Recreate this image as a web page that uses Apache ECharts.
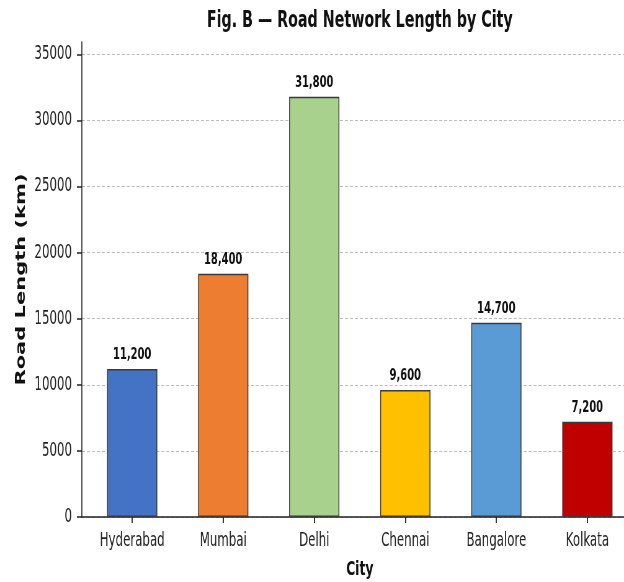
<!DOCTYPE html>
<html>
<head>
<meta charset="utf-8">
<script src="https://cdn.jsdelivr.net/npm/echarts@6/dist/echarts.min.js"></script>
<style>
  html, body { margin: 0; padding: 0; background: #fff; overflow: hidden; }
  #wrap { width: 624px; height: 582px; overflow: hidden; }
  /* the figure is laid out wide and then narrowed horizontally */
  #chart { width: 1040px; height: 582px; transform: scaleX(0.6203); transform-origin: 0 0; }
</style>
</head>
<body>
<div id="wrap"><div id="chart"></div></div>
<script>
const cities = ['Hyderabad', 'Mumbai', 'Delhi', 'Chennai', 'Bangalore', 'Kolkata'];
const roadLengthKm = [11200, 18400, 31800, 9600, 14700, 7200];
const barColors = ['#4472C4', '#ED7D31', '#A9D18E', '#FFC000', '#5B9BD5', '#C00000'];
const yTicks = [0, 5000, 10000, 15000, 20000, 25000, 30000, 35000];
const cityPositions = cities.map((c, i) => i);

const FONT = '"DejaVu Sans", "Liberation Sans", sans-serif';
const yMax = Math.max(...roadLengthKm) * 1.13;
const xPad = 0.5525;

const chart = echarts.init(document.getElementById('chart'), null, { renderer: 'canvas' });

chart.setOption({
  animation: false,
  backgroundColor: '#ffffff',
  grid: { left: 132, right: 12, top: 42, bottom: 65, containLabel: false, outerBoundsMode: 'none' },
  graphic: [{
    type: 'text',
    x: 580, y: 21,
    style: {
      text: 'Fig. B \u2014 Road Network Length by City',
      fontFamily: FONT, fontSize: 23, fontWeight: 'bold',
      fill: '#111', align: 'center', verticalAlign: 'middle'
    }
  }],
  xAxis: {
    type: 'value',
    min: -xPad,
    max: cities.length - 1 + xPad,
    name: 'City',
    nameLocation: 'middle',
    nameGap: 43,
    nameTextStyle: { fontFamily: FONT, fontSize: 20, fontWeight: 'bold', color: '#111' },
    axisLine: { show: true, onZero: false, lineStyle: { color: '#222', width: 1.5 } },
    axisTick: { show: true, length: 6, customValues: cityPositions, lineStyle: { color: '#222', width: 1.8 } },
    axisLabel: {
      customValues: cityPositions,
      formatter: v => cities[Math.round(v)],
      fontFamily: FONT, fontSize: 19, color: '#222', margin: 15
    },
    splitLine: { show: false }
  },
  yAxis: {
    type: 'value',
    min: 0,
    max: yMax,
    interval: 5000,
    name: 'Road Length (km)',
    nameLocation: 'middle',
    nameRotate: 90,
    nameGap: 82,
    nameTextStyle: { fontFamily: FONT, fontSize: 21, fontWeight: 'bold', color: '#111' },
    axisLine: { show: true, onZero: false, lineStyle: { color: '#222', width: 1.6 } },
    axisTick: { show: true, length: 8, customValues: yTicks, lineStyle: { color: '#222', width: 1.5 } },
    axisLabel: {
      customValues: yTicks,
      formatter: v => String(v),
      fontFamily: FONT, fontSize: 19, color: '#222', margin: 16
    },
    splitLine: { show: true, lineStyle: { color: '#bdbdbd', width: 1, type: [5, 3] } }
  },
  series: [{
    type: 'bar',
    barWidth: 81,
    data: cities.map((c, i) => ({
      value: [i, roadLengthKm[i]],
      itemStyle: { color: barColors[i] }
    })),
    itemStyle: { borderColor: '#3a3a3a', borderWidth: 1.5 },
    label: {
      show: true,
      position: 'top',
      distance: 6,
      formatter: p => p.value[1].toLocaleString('en-US'),
      fontFamily: FONT, fontSize: 16, fontWeight: 'bold', color: '#111'
    }
  }]
});
</script>
</body>
</html>
